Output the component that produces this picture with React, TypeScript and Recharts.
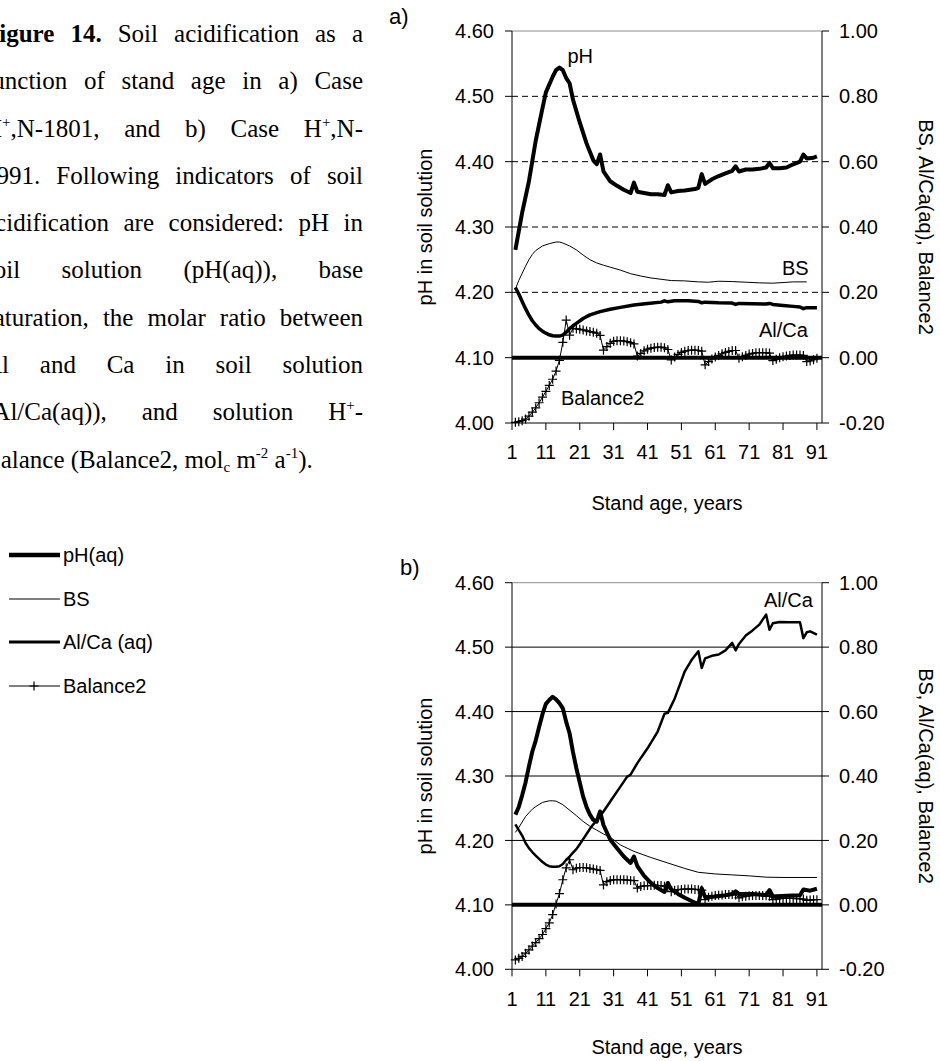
import React from "react";
import { LineChart, Line, XAxis, YAxis, ReferenceLine, Legend } from "recharts";

const SANS = "'Liberation Sans', Arial, Helvetica, sans-serif";
const SERIF = "'Liberation Serif', 'Times New Roman', Times, serif";

// stand age (years) of the yearly Balance2 values
const YEARS = Array.from({ length: 90 }, (_, i) => i + 2);
const X_TICKS = [1, 11, 21, 31, 41, 51, 61, 71, 81, 91];
const PH_TICKS = [4.0, 4.1, 4.2, 4.3, 4.4, 4.5, 4.6];
const FRAC_TICKS = [-0.2, 0, 0.2, 0.4, 0.6, 0.8, 1.0];
const PH_GRID = [4.2, 4.3, 4.4, 4.5];

// a) Case H+,N-1801  -- [year, value]
const PH_A: [number, number][] = [
  [2, 4.265], [4, 4.322], [6, 4.37], [8, 4.432], [10, 4.482], [11, 4.506], [13, 4.53],
  [14, 4.54], [15, 4.544], [16, 4.54], [17, 4.528], [18, 4.52], [19, 4.495], [21, 4.46],
  [23, 4.428], [25, 4.402], [26, 4.396], [27, 4.411], [28, 4.385], [30, 4.37], [32, 4.363],
  [34, 4.357], [36, 4.352], [37, 4.368], [38, 4.354], [40, 4.352], [42, 4.35], [44, 4.35],
  [46, 4.349], [47, 4.364], [48, 4.353], [50, 4.355], [52, 4.356], [55, 4.358], [56, 4.36],
  [57, 4.381], [58, 4.366], [60, 4.373], [62, 4.378], [64, 4.382], [66, 4.386], [67, 4.393],
  [68, 4.385], [70, 4.388], [72, 4.388], [74, 4.389], [76, 4.391], [77, 4.398], [78, 4.39],
  [80, 4.39], [82, 4.391], [84, 4.396], [86, 4.4], [87, 4.411], [88, 4.405], [90, 4.406],
  [91, 4.408],
];
const BS_A: [number, number][] = [
  [2, 0.21], [3, 0.236], [4, 0.258], [5, 0.28], [6, 0.3], [7, 0.316], [8, 0.328], [10, 0.342],
  [12, 0.349], [14, 0.354], [15, 0.354], [16, 0.351], [18, 0.342], [20, 0.33], [22, 0.314],
  [24, 0.3], [26, 0.29], [28, 0.283], [30, 0.277], [33, 0.268], [36, 0.257], [39, 0.25],
  [42, 0.244], [45, 0.24], [48, 0.236], [52, 0.235], [56, 0.232], [59, 0.231], [62, 0.234],
  [66, 0.233], [70, 0.231], [74, 0.229], [78, 0.228], [81, 0.23], [84, 0.232], [88, 0.232],
];
const ALCA_A: [number, number][] = [
  [2, 0.215], [3, 0.195], [4, 0.172], [5, 0.15], [6, 0.13], [7, 0.113], [8, 0.1], [9, 0.089],
  [10, 0.081], [11, 0.075], [12, 0.07], [13, 0.067], [14, 0.066], [15, 0.066], [16, 0.069],
  [17, 0.078], [18, 0.089], [19, 0.097], [20, 0.105], [22, 0.12], [24, 0.131], [27, 0.141],
  [30, 0.148], [33, 0.154], [37, 0.161], [41, 0.166], [45, 0.17], [46, 0.174], [47, 0.171],
  [49, 0.174], [53, 0.174], [56, 0.172], [57, 0.168], [58, 0.17], [62, 0.168], [66, 0.167],
  [67, 0.163], [68, 0.166], [72, 0.165], [76, 0.164], [77, 0.166], [78, 0.163], [81, 0.16],
  [84, 0.157], [86, 0.155], [87, 0.15], [88, 0.153], [91, 0.153],
];
// Balance2, one value per year 2..91
const BAL2_A = [
  -0.198, -0.196, -0.193, -0.188, -0.179, -0.167, -0.154, -0.138, -0.121, -0.103,
  -0.085, -0.066, -0.041, -0.008, 0.047, 0.115, 0.069, 0.09, 0.088, 0.087,
  0.085, 0.082, 0.08, 0.078, 0.075, 0.068, 0.023, 0.034, 0.044, 0.05,
  0.052, 0.052, 0.051, 0.049, 0.046, 0.042, 0.005, 0.013, 0.021, 0.026,
  0.029, 0.031, 0.032, 0.032, 0.03, 0.025, -0.007, 0.002, 0.01, 0.016,
  0.02, 0.022, 0.023, 0.023, 0.022, 0.02, -0.022, -0.012, -0.004, 0.002,
  0.007, 0.012, 0.016, 0.019, 0.022, 0.022, -0.002, 0.003, 0.007, 0.011,
  0.013, 0.015, 0.015, 0.015, 0.015, 0.014, -0.009, -0.005, 0.0, 0.003,
  0.005, 0.007, 0.008, 0.008, 0.008, 0.007, -0.012, -0.01, -0.006, -0.002,
];

// b) Case H+,N-1991
const PH_B: [number, number][] = [
  [2, 4.24], [3, 4.252], [4, 4.27], [5, 4.29], [6, 4.315], [7, 4.338], [8, 4.355], [9, 4.376],
  [10, 4.396], [11, 4.412], [12, 4.418], [13, 4.423], [14, 4.419], [15, 4.413], [16, 4.405],
  [17, 4.384], [18, 4.366], [19, 4.337], [20, 4.312], [21, 4.29], [22, 4.268], [23, 4.252],
  [24, 4.24], [25, 4.232], [26, 4.229], [27, 4.245], [28, 4.224], [30, 4.201], [32, 4.188],
  [34, 4.175], [36, 4.165], [37, 4.175], [38, 4.16], [40, 4.145], [42, 4.134], [44, 4.126],
  [46, 4.12], [47, 4.134], [48, 4.124], [50, 4.117], [52, 4.111], [54, 4.106], [56, 4.101],
  [57, 4.126], [58, 4.112], [61, 4.113], [64, 4.115], [66, 4.117], [67, 4.121], [68, 4.117],
  [72, 4.117], [76, 4.115], [77, 4.123], [78, 4.113], [82, 4.114], [86, 4.115], [87, 4.124],
  [89, 4.122], [91, 4.125],
];
const BS_B: [number, number][] = [
  [2, 0.225], [3, 0.24], [4, 0.257], [5, 0.274], [6, 0.286], [7, 0.297], [8, 0.305], [10, 0.318],
  [12, 0.323], [13, 0.323], [14, 0.322], [16, 0.311], [18, 0.294], [20, 0.277], [22, 0.259],
  [24, 0.244], [26, 0.232], [28, 0.22], [30, 0.21], [33, 0.186], [37, 0.166], [42, 0.147],
  [47, 0.13], [52, 0.113], [56, 0.101], [61, 0.096], [66, 0.093], [71, 0.09], [76, 0.086],
  [81, 0.085], [86, 0.085], [91, 0.085],
];
const ALCA_B: [number, number][] = [
  [2, 0.25], [3, 0.232], [4, 0.215], [5, 0.192], [6, 0.176], [7, 0.164], [8, 0.153], [9, 0.143],
  [10, 0.133], [11, 0.125], [12, 0.12], [13, 0.118], [14, 0.118], [15, 0.12], [16, 0.127],
  [17, 0.14], [18, 0.15], [19, 0.162], [20, 0.173], [21, 0.188], [22, 0.204], [23, 0.22],
  [24, 0.236], [25, 0.25], [26, 0.262], [27, 0.275], [28, 0.29], [30, 0.321], [33, 0.367],
  [35, 0.398], [36, 0.404], [38, 0.44], [41, 0.486], [44, 0.538], [46, 0.593], [47, 0.596],
  [49, 0.64], [50, 0.668], [52, 0.725], [54, 0.76], [56, 0.787], [57, 0.735], [58, 0.765],
  [60, 0.773], [62, 0.777], [64, 0.79], [66, 0.813], [67, 0.79], [68, 0.81], [70, 0.836],
  [72, 0.852], [74, 0.87], [76, 0.901], [77, 0.854], [78, 0.874], [80, 0.878], [83, 0.877],
  [86, 0.877], [87, 0.828], [88, 0.846], [89, 0.849], [91, 0.839],
];
const BAL2_B = [
  -0.171, -0.166, -0.16, -0.15, -0.14, -0.128, -0.117, -0.105, -0.092, -0.074,
  -0.056, -0.03, 0.003, 0.035, 0.078, 0.115, 0.14, 0.109, 0.114, 0.116,
  0.116, 0.115, 0.113, 0.111, 0.109, 0.107, 0.062, 0.072, 0.076, 0.078,
  0.078, 0.078, 0.078, 0.077, 0.076, 0.075, 0.052, 0.057, 0.059, 0.06,
  0.06, 0.061, 0.06, 0.06, 0.058, 0.056, 0.041, 0.045, 0.047, 0.048,
  0.049, 0.049, 0.049, 0.048, 0.047, 0.046, 0.016, 0.024, 0.027, 0.029,
  0.03, 0.031, 0.032, 0.032, 0.032, 0.031, 0.022, 0.025, 0.027, 0.028,
  0.029, 0.029, 0.029, 0.029, 0.028, 0.027, 0.016, 0.018, 0.019, 0.02,
  0.02, 0.02, 0.02, 0.019, 0.019, 0.018, 0.014, 0.015, 0.016, 0.016,
];

const LEGEND_ITEMS = [
  { name: "pH(aq)", width: 4.5, marker: false },
  { name: "BS", width: 1, marker: false },
  { name: "Al/Ca (aq)", width: 2.8, marker: false },
  { name: "Balance2", width: 1, marker: true },
];

const pts = (pairs: [number, number][]) => pairs.map(([year, v]) => ({ year, v }));
const yearly = (vals: number[]) => vals.map((v, i) => ({ year: YEARS[i], v }));

const tickStyle = { fill: "#000", fontSize: 20, fontFamily: SANS };
const fmt = (v: number) => v.toFixed(2);

// "+" marker used by the Balance2 series
const PlusDot = (props: any) => {
  const { cx, cy, index } = props;
  if (typeof cx !== "number" || typeof cy !== "number") return <g key={index} />;
  return (
    <path
      key={index}
      d={`M${cx - 4.5},${cy}H${cx + 4.5}M${cx},${cy - 4.5}V${cy + 4.5}`}
      stroke="#000"
      strokeWidth={1.2}
      fill="none"
    />
  );
};

const LegendBox = () => (
  <div style={{ fontFamily: SANS, fontSize: 20, color: "#000" }}>
    {LEGEND_ITEMS.map((item) => (
      <div key={item.name} style={{ height: 43.5, display: "flex", alignItems: "center" }}>
        <svg width={63} height={20} style={{ display: "block" }}>
          <line x1={9} x2={60} y1={10} y2={10} stroke="#000" strokeWidth={item.width} />
          {item.marker && <path d="M29.5,10H38.5M34,5.5V14.5" stroke="#000" strokeWidth={1.2} />}
        </svg>
        <span style={{ lineHeight: 1 }}>{item.name}</span>
      </div>
    ))}
  </div>
);

type PanelProps = {
  ph: [number, number][];
  bs: [number, number][];
  alca: [number, number][];
  bal: number[];
  dashed: boolean;
  alcaWidth: number;
  width: number;
  height: number;
  margin: { top: number; right: number; bottom: number; left: number };
  titleOffset: number;
  legend?: boolean;
};

const Panel = ({ ph, bs, alca, bal, dashed, alcaWidth, width, height, margin, titleOffset, legend }: PanelProps) => (
  <LineChart width={width} height={height} margin={margin}>
    <XAxis
      dataKey="year"
      type="number"
      domain={[1, 92.5]}
      ticks={X_TICKS}
      interval={0}
      height={30}
      tick={tickStyle}
      tickSize={7}
      tickMargin={15}
      axisLine={{ stroke: "#000" }}
      tickLine={{ stroke: "#000" }}
      label={{ value: "Stand age, years", position: "bottom", offset: titleOffset, fill: "#000", fontSize: 20, fontFamily: SANS }}
    />
    <YAxis
      yAxisId="ph"
      orientation="left"
      type="number"
      domain={[4, 4.6]}
      ticks={PH_TICKS}
      tickFormatter={fmt}
      width={60}
      tick={tickStyle}
      tickSize={7}
      tickMargin={11}
      axisLine={{ stroke: "#000" }}
      tickLine={{ stroke: "#000" }}
    />
    <YAxis
      yAxisId="frac"
      orientation="right"
      type="number"
      domain={[-0.2, 1]}
      ticks={FRAC_TICKS}
      tickFormatter={fmt}
      width={60}
      tick={tickStyle}
      tickSize={7}
      tickMargin={10}
      axisLine={{ stroke: "#000" }}
      tickLine={{ stroke: "#000" }}
    />
    {PH_GRID.map((v) => (
      <ReferenceLine
        key={v}
        yAxisId="ph"
        y={v}
        stroke="#000"
        strokeWidth={1}
        strokeDasharray={dashed ? "6 4" : undefined}
      />
    ))}
    <ReferenceLine yAxisId="ph" y={4.6} stroke="#8c8c8c" strokeWidth={1} />
    <ReferenceLine yAxisId="frac" y={0} stroke="#000" strokeWidth={4} />
    <Line data={pts(bs)} dataKey="v" name="BS" yAxisId="frac" stroke="#000" strokeWidth={1}
      dot={false} isAnimationActive={false} />
    <Line data={pts(alca)} dataKey="v" name="Al/Ca (aq)" yAxisId="frac" stroke="#000"
      strokeWidth={alcaWidth} strokeLinejoin="round" dot={false} isAnimationActive={false} />
    <Line data={pts(ph)} dataKey="v" name="pH(aq)" yAxisId="ph" stroke="#000" strokeWidth={4}
      strokeLinejoin="round" dot={false} isAnimationActive={false} />
    <Line data={yearly(bal)} dataKey="v" name="Balance2" yAxisId="frac" stroke="#000" strokeWidth={1}
      dot={PlusDot} isAnimationActive={false} />
    {legend && (
      <Legend
        layout="horizontal"
        verticalAlign="middle"
        align="center"
        content={() => <LegendBox />}
        wrapperStyle={{ left: 0, top: 13.25, width: 240 }}
      />
    )}
  </LineChart>
);

const lineStyle: React.CSSProperties = { textAlign: "justify", textAlignLast: "justify" };
const sup: React.CSSProperties = { fontSize: "0.6em", lineHeight: 0, verticalAlign: "0.7em" };
const sub: React.CSSProperties = { fontSize: "0.6em", lineHeight: 0, verticalAlign: "-0.25em" };

const Caption = () => (
  <div
    style={{
      position: "absolute",
      left: -16,
      top: 10,
      width: 379,
      fontFamily: SERIF,
      fontSize: 25,
      lineHeight: "47.3px",
      color: "#000",
    }}
  >
    <div style={lineStyle}><b>Figure 14.</b> Soil acidification as a</div>
    <div style={lineStyle}>function of stand age in a) Case</div>
    <div style={lineStyle}>H<span style={sup}>+</span>,N-1801, and b) Case H<span style={sup}>+</span>,N-</div>
    <div style={lineStyle}>1991. Following indicators of soil</div>
    <div style={lineStyle}>acidification are considered: pH in</div>
    <div style={lineStyle}>soil solution (pH(aq)), base</div>
    <div style={lineStyle}>saturation, the molar ratio between</div>
    <div style={lineStyle}>Al and Ca in soil solution</div>
    <div style={lineStyle}>(Al/Ca(aq)), and solution H<span style={sup}>+</span>-</div>
    <div>
      Balance (Balance2, mol<span style={sub}>c</span> m<span style={sup}>-2</span> a<span style={sup}>-1</span>).
    </div>
  </div>
);

const Annotations = () => (
  <svg
    width={940}
    height={1061}
    style={{ position: "absolute", left: 0, top: 0, pointerEvents: "none" }}
    fontFamily={SANS}
    fill="#000"
  >
    <text x={389} y={24} fontSize={22}>a)</text>
    <text x={400} y={575} fontSize={22}>b)</text>
    <text x={567.5} y={62.7} fontSize={20}>pH</text>
    <text x={782} y={275} fontSize={20}>BS</text>
    <text x={759} y={337} fontSize={20}>Al/Ca</text>
    <text x={561} y={405} fontSize={20}>Balance2</text>
    <text x={764} y={607} fontSize={20}>Al/Ca</text>
    {[227, 776].map((cy) => (
      <g key={cy}>
        <text
          x={0}
          y={0}
          fontSize={20}
          textAnchor="middle"
          dominantBaseline="central"
          transform={`translate(425 ${cy}) rotate(-90)`}
        >
          pH in soil solution
        </text>
        <text
          x={0}
          y={0}
          fontSize={20}
          textAnchor="middle"
          dominantBaseline="central"
          transform={`translate(926 ${cy}) rotate(90)`}
        >
          BS, Al/Ca(aq), Balance2
        </text>
      </g>
    ))}
  </svg>
);

export default function App() {
  return (
    <>
      <style>{"html,body{margin:0;padding:0;overflow:hidden;background:#fff}"}</style>
      <div
        style={{
          position: "relative",
          width: 940,
          height: 1061,
          background: "#fff",
          overflow: "hidden",
        }}
      >
        <Caption />
        <div style={{ position: "absolute", left: 380, top: 0 }}>
          <Panel
            ph={PH_A}
            bs={BS_A}
            alca={ALCA_A}
            bal={BAL2_A}
            dashed
            alcaWidth={3.5}
            width={560}
            height={520}
            margin={{ top: 31, right: 58, bottom: 67, left: 72 }}
            titleOffset={43}
          />
        </div>
        <div style={{ position: "absolute", left: 0, top: 520 }}>
          <Panel
            ph={PH_B}
            bs={BS_B}
            alca={ALCA_B}
            bal={BAL2_B}
            dashed={false}
            alcaWidth={2.5}
            width={940}
            height={541}
            margin={{ top: 62.7, right: 58, bottom: 61.7, left: 452 }}
            titleOffset={40}
            legend
          />
        </div>
        <Annotations />
      </div>
    </>
  );
}
